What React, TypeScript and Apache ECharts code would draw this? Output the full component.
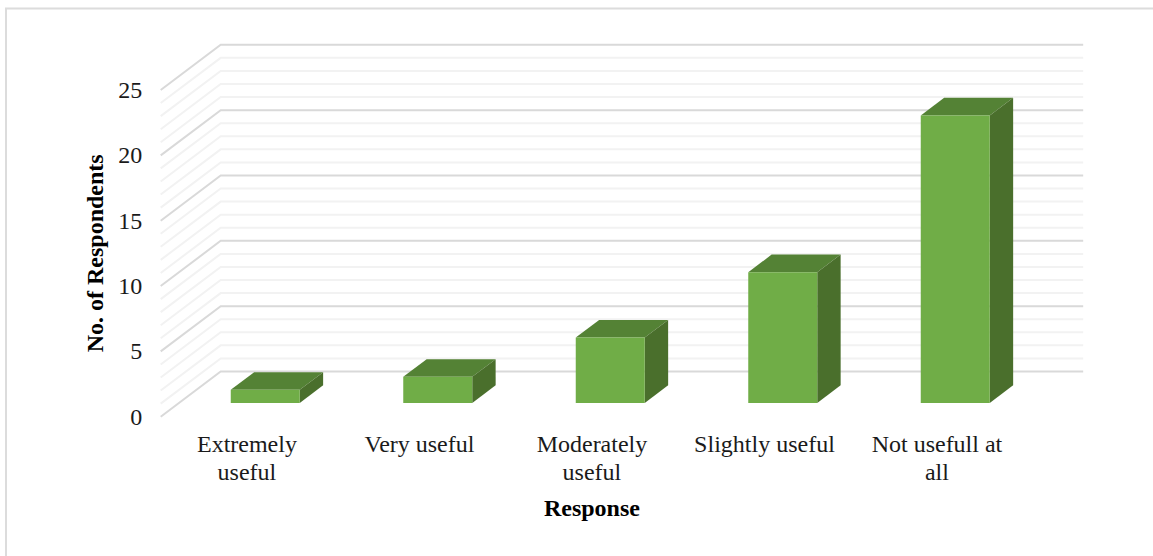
import { useEffect, useRef } from "react";
import * as echarts from "echarts";

const categories = ["Extremely\nuseful", "Very useful", "Moderately\nuseful", "Slightly useful", "Not usefull at\nall"];
const respondents = [1, 2, 5, 10, 22];
const gridLevels = [0, 1, 2, 3, 4, 5, 6, 7, 8, 9, 10, 11, 12, 13, 14, 15, 16, 17, 18, 19, 20, 21, 22, 23, 24, 25];

// Oblique projection of the chart's box, in pixels.
const WALL_DX = 60;
const WALL_DY = -45.2;
const BAR_FRONT = 0.305;
const BAR_DEPTH = 0.39;
const BAR_WIDTH = 0.4;

const FONT = '"Liberation Serif", serif';

function renderGridLine(_: any, api: any) {
  const value = api.value(0);
  const start = api.coord([0, value]);
  const size = api.size([1, 0]);
  const x0 = start[0] - size[0] / 2;
  const y0 = start[1];
  const xEnd = x0 + size[0] * categories.length + WALL_DX;
  const major = value % 5 === 0;
  return {
    type: "polyline",
    shape: { points: [[x0, y0], [x0 + WALL_DX, y0 + WALL_DY], [xEnd, y0 + WALL_DY]] },
    style: { fill: "none", stroke: major ? "#d9d9d9" : "#f2f2f2", lineWidth: 2 },
    silent: true,
  };
}

function renderBar(_: any, api: any) {
  const top = api.coord([api.value(0), api.value(1)]);
  const base = api.coord([api.value(0), 0]);
  const band = api.size([1, 0])[0];
  const w = band * BAR_WIDTH;
  const fx = WALL_DX * BAR_FRONT;
  const fy = WALL_DY * BAR_FRONT;
  const dx = WALL_DX * BAR_DEPTH;
  const dy = WALL_DY * BAR_DEPTH;
  const l = top[0] - w / 2 + fx;
  const r = l + w;
  const t = top[1] + fy;
  const b = base[1] + fy;
  return {
    type: "group",
    children: [
      {
        type: "polygon",
        shape: { points: [[l, t], [r, t], [r + dx, t + dy], [l + dx, t + dy]] },
        style: { fill: "#548235" },
      },
      {
        type: "polygon",
        shape: { points: [[r, t], [r + dx, t + dy], [r + dx, b + dy], [r, b]] },
        style: { fill: "#4a6f2c" },
      },
      {
        type: "polygon",
        shape: { points: [[l, t], [r, t], [r, b], [l, b]] },
        style: { fill: "#70ad47" },
      },
    ],
  };
}

export default function App() {
  const ref = useRef<HTMLDivElement>(null);

  useEffect(() => {
    document.body.style.margin = "0";
    const chart = echarts.init(ref.current!, undefined, { renderer: "svg" });
    chart.setOption({
      animation: false,
      backgroundColor: "#ffffff",
      grid: { left: 160.7, top: 90, width: 862.5, height: 326.7, containLabel: false },
      graphic: [
        {
          type: "rect",
          silent: true,
          z: -1,
          shape: { x: 6, y: 8.5, width: 1160, height: 560 },
          style: { fill: "none", stroke: "#dcdcdc", lineWidth: 2 },
        },
      ],
      xAxis: {
        type: "category",
        data: categories,
        axisLine: { show: false },
        axisTick: { show: false },
        splitLine: { show: false },
        name: "Response",
        nameLocation: "middle",
        nameGap: 79,
        nameTextStyle: { fontFamily: FONT, fontSize: 24, fontWeight: "bold", color: "#000000" },
        axisLabel: {
          interval: 0,
          margin: 13,
          lineHeight: 28,
          fontFamily: FONT,
          fontSize: 24,
          color: "#1a1a1a",
        },
      },
      yAxis: {
        type: "value",
        min: 0,
        max: 25,
        interval: 5,
        axisLine: { show: false },
        axisTick: { show: false },
        splitLine: { show: false },
        name: "No. of Respondents",
        nameLocation: "middle",
        nameGap: 53,
        nameRotate: 90,
        nameTextStyle: { fontFamily: FONT, fontSize: 24, fontWeight: "bold", color: "#000000" },
        axisLabel: { margin: 18.5, fontFamily: FONT, fontSize: 24, color: "#1a1a1a" },
      },
      series: [
        {
          type: "custom",
          name: "Gridlines",
          renderItem: renderGridLine,
          data: gridLevels.map((v) => [v]),
          encode: { y: 0 },
          clip: false,
          silent: true,
          z: 1,
        },
        {
          type: "custom",
          name: "No. of Respondents",
          renderItem: renderBar,
          data: respondents.map((v, i) => [i, v]),
          encode: { x: 0, y: 1 },
          clip: false,
          z: 2,
        },
      ],
    });
    return () => chart.dispose();
  }, []);

  return <div ref={ref} style={{ width: 1153, height: 556 }} />;
}
